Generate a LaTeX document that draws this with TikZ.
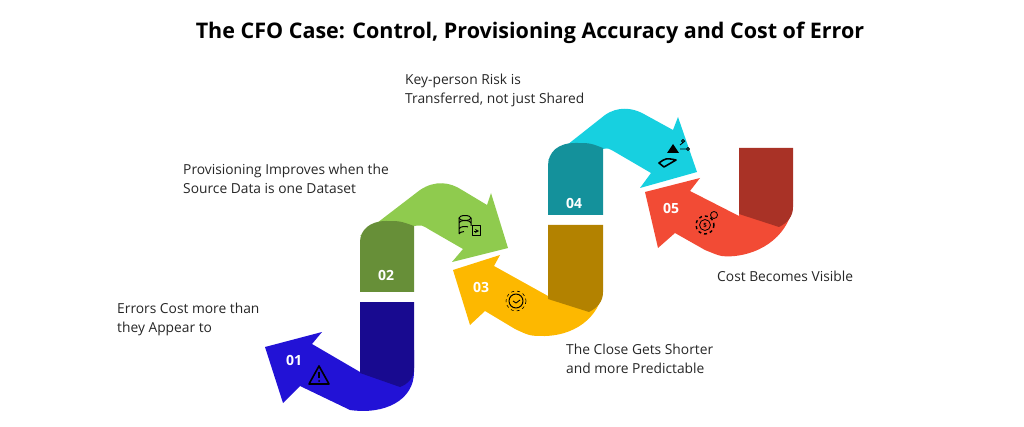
\documentclass[tikz,border=0pt]{standalone}
\usepackage{fontspec}
\setmainfont{Open Sans}
\begin{document}
\begin{tikzpicture}[x=1pt,y=-1pt,
  lbl/.style={anchor=north west,align=left,font=\fontsize{13.8}{19}\selectfont,text=black!85,inner sep=0pt},
  num/.style={text=white,font=\bfseries\fontsize{14}{14}\selectfont},
  ic/.style={draw=black,line width=1.2pt,line join=round}]
\definecolor{cblue}{HTML}{2212D6}\definecolor{cnavy}{HTML}{180A90}
\definecolor{cgreen}{HTML}{8FCB4E}\definecolor{colive}{HTML}{678F38}
\definecolor{cyel}{HTML}{FDB800}\definecolor{cbrown}{HTML}{B38200}
\definecolor{ccyan}{HTML}{17D0E0}\definecolor{cteal}{HTML}{14919B}
\definecolor{cred}{HTML}{F24B35}\definecolor{cdred}{HTML}{A93226}
\useasboundingbox (0,0) rectangle (1024,427);
\node[font=\bfseries\fontsize{21.5}{21.5}\selectfont] (title) at (530,33) {The CFO Case: Control, Provisioning Accuracy and Cost of Error};
% 01
\fill[cblue] (414,350) -- (414,372) .. controls (414,400) and (385,415) .. (350,410) -- (300,386) -- (283,403) -- (265,347) -- (322,332) -- (312,344) -- (360,372) -- (360,350) -- cycle;
\fill[cnavy] (360,302) -- (414,302) -- (414,368) .. controls (414,378) and (408,384) .. (400,387) -- (360,373) -- cycle;
% 02
\fill[cgreen] (360,236) -- (420,190) .. controls (435,180) and (450,182) .. (462,190) -- (487,205) -- (491,193) -- (508,248) -- (452,262) -- (463,249) -- (430,230) .. controls (422,225) .. (414,226) -- cycle;
\fill[colive] (360,292) -- (360,242) .. controls (360,230) and (370,221) .. (386,221) .. controls (400,221) .. (414,226) -- (414,292) -- cycle;
% 03
\fill[cyel] (603,285) .. controls (603,312) and (580,335) .. (545,336) .. controls (530,336) .. (515,329) -- (485,311) -- (470,325) -- (453,270) -- (500,255) -- (494,266) -- (548,296) -- (548,285) -- cycle;
\fill[cbrown] (548,225) -- (603,225) -- (603,292) .. controls (603,302) and (597,308) .. (589,312) -- (548,299) -- cycle;
% 04
\fill[ccyan] (548,160) -- (605,115) .. controls (618,106) and (632,108) .. (642,113) -- (673,130) -- (678,117) -- (697,172) -- (640,188) -- (651,173) -- (615,152) .. controls (608,148) .. (603,149) -- cycle;
\fill[cteal] (548,215) -- (548,166) .. controls (548,152) and (558,143) .. (575,143) .. controls (590,143) .. (603,148) -- (603,215) -- cycle;
% 05
\fill[cred] (793,200) .. controls (793,227) and (770,252) .. (735,256) .. controls (722,257) .. (705,250) -- (675,233) -- (658,248) -- (645,192) -- (700,178) -- (690,191) -- (739,216) -- (739,200) -- cycle;
\fill[cdred] (739,148) -- (793,148) -- (793,207) .. controls (793,217) and (787,223) .. (779,227) -- (739,214) -- cycle;
% numbers
\node[num] (n1) at (294,360) {01};
\node[num] (n2) at (386,275) {02};
\node[num] (n3) at (481,287) {03};
\node[num] (n4) at (574,203) {04};
\node[num] (n5) at (671,208) {05};
% icons
\draw[ic,line width=1.6pt] (309,384) -- (319,366) -- (329,384) -- cycle;
\draw[ic,line width=1.4pt] (319,372) -- (319,378); \fill (319,381) circle (1pt);
\draw[ic,line width=1pt] (465,218) ellipse (6 and 2.5); \draw[ic,line width=1pt] (459,218) -- (459,234) (471,218)--(471,226) (459,223) arc[start angle=180,end angle=360,x radius=6,y radius=2.5] (459,229) arc[start angle=180,end angle=300,x radius=6,y radius=2.5] (459,234) arc[start angle=180,end angle=260,x radius=6,y radius=2.5];
\draw[ic,line width=1pt] (472,226) rectangle (480,236); \draw[ic,line width=0.8pt,->,>=stealth] (474,231) -- (479,231);
\draw[ic,line width=1pt] (516,301) circle (7); \draw[ic,dashed,line width=0.6pt] (516,301) circle (10); \draw[ic,line width=0.9pt] (513,301) -- (516,303) -- (520,300);
\fill (667,153) -- (673,144) -- (679,153) -- cycle; \draw[ic,line width=1.6pt] (659,163) .. controls (666,158) .. (676,160) -- (664,167) -- cycle;
\draw[ic,line width=0.8pt] (680,145) -- (685,141) (680,149) -- (687,149) (683,141) circle (1.5) (688,149) circle (1.5);
\draw[ic,line width=0.8pt] (705,225) circle (5.5); \draw[ic,dashed,line width=1.4pt] (705,225) circle (9); \node[font=\bfseries\fontsize{6}{6}\selectfont,inner sep=0pt] (dol) at (705,225) {\$};
\draw[ic,line width=0.8pt] (714,215) circle (3.5);
% labels
\node[lbl] (l1) at (117,303) {Errors Cost more than\\they Appear to};
\node[lbl] (l2) at (183,164) {Provisioning Improves when the\\Source Data is one Dataset};
\node[lbl] (l3) at (405,74) {Key-person Risk is\\Transferred, not just Shared};
\node[lbl] (l4) at (566,344) {The Close Gets Shorter\\and more Predictable};
\node[lbl] (l5) at (717,271) {Cost Becomes Visible};
\end{tikzpicture}
\end{document}
